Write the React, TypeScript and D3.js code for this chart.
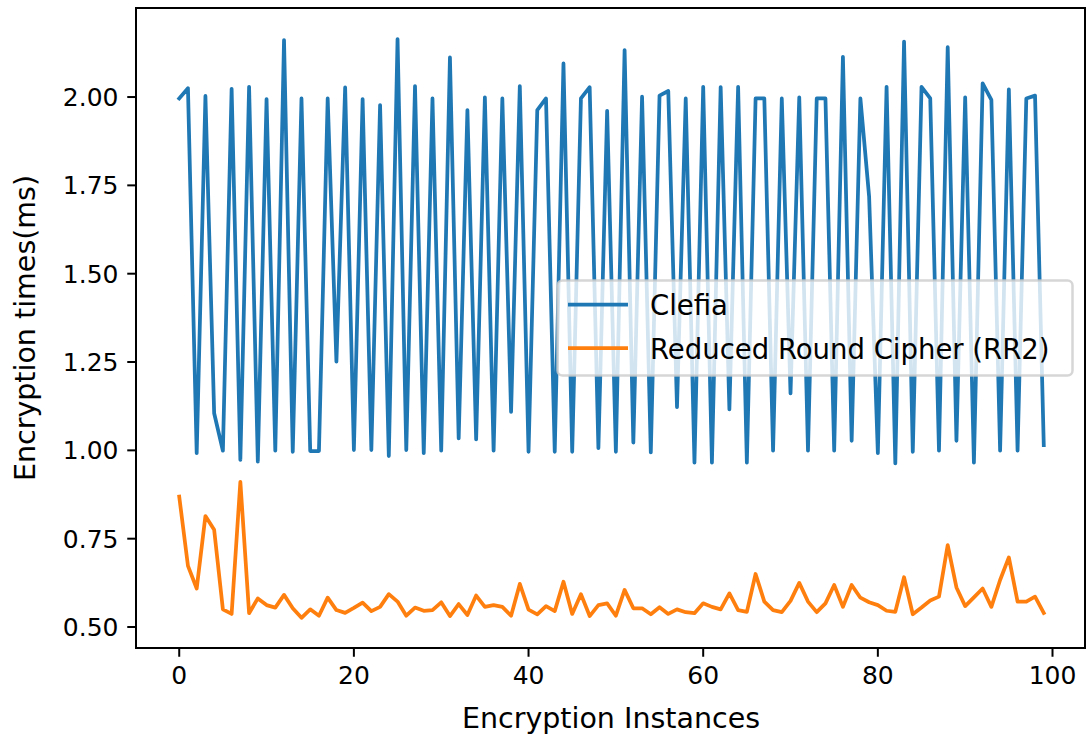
import React from "react";
import * as d3 from "d3";

// Encryption times (ms) per instance
const clefia = [
  1.996, 2.025, 0.992, 2.003, 1.105, 0.999, 2.023, 0.973, 2.029, 0.968,
  1.994, 0.999, 2.161, 0.996, 1.996, 0.998, 0.998, 1.996, 1.251, 2.027,
  1.001, 1.994, 1.001, 1.977, 0.984, 2.164, 1.001, 2.031, 0.992, 1.996,
  0.999, 2.112, 1.034, 1.963, 1.031, 1.999, 0.999, 1.996, 1.109, 2.031,
  0.996, 1.963, 1.996, 0.996, 2.095, 0.996, 1.996, 2.028, 1.006, 1.961,
  0.996, 2.133, 1.022, 2.001, 0.994, 2.004, 2.017, 1.122, 1.996, 0.965,
  2.029, 0.965, 2.028, 1.116, 2.029, 0.965, 1.996, 1.996, 0.999, 1.996,
  1.161, 1.999, 0.999, 1.996, 1.996, 0.999, 2.114, 1.027, 1.996, 1.718,
  0.992, 2.029, 0.963, 2.157, 0.996, 2.029, 1.996, 0.999, 2.141, 1.027,
  1.999, 0.965, 2.039, 1.992, 0.999, 2.022, 0.999, 1.996, 2.004, 1.015,
];

const rr2 = [
  0.869, 0.673, 0.609, 0.814, 0.775, 0.550, 0.537, 0.911, 0.539, 0.581,
  0.562, 0.555, 0.591, 0.553, 0.526, 0.550, 0.532, 0.583, 0.548, 0.540,
  0.554, 0.569, 0.545, 0.557, 0.593, 0.572, 0.532, 0.555, 0.546, 0.548,
  0.570, 0.531, 0.565, 0.534, 0.589, 0.557, 0.562, 0.557, 0.532, 0.622,
  0.549, 0.536, 0.559, 0.545, 0.628, 0.537, 0.593, 0.531, 0.562, 0.567,
  0.532, 0.605, 0.553, 0.553, 0.536, 0.556, 0.537, 0.550, 0.542, 0.539,
  0.567, 0.557, 0.550, 0.595, 0.548, 0.543, 0.650, 0.572, 0.548, 0.542,
  0.574, 0.625, 0.572, 0.542, 0.567, 0.619, 0.557, 0.619, 0.583, 0.570,
  0.562, 0.546, 0.543, 0.641, 0.536, 0.555, 0.575, 0.586, 0.732, 0.612,
  0.559, 0.584, 0.609, 0.557, 0.633, 0.697, 0.572, 0.572, 0.586, 0.540,
];

const xTicks = [0, 20, 40, 60, 80, 100];
const yTicks = [0.5, 0.75, 1.0, 1.25, 1.5, 1.75, 2.0];
const seriesNames = ["Clefia", "Reduced Round Cipher (RR2)"];
const seriesColors = ["#1f77b4", "#ff7f0e"];

const W = 1086;
const H = 737;
const left = 136, right = 1087, top = 8, bottom = 648;
const font = "'DejaVu Sans', sans-serif";

export default function App() {
  const x = d3.scaleLinear().domain([-4.95, 103.95]).range([left, right]);
  const y = d3.scaleLinear().domain([0.4406, 2.252]).range([bottom, top]);

  const line = d3
    .line<number>()
    .x((_, i) => x(i))
    .y((d) => y(d));

  const series = [clefia, rr2];

  return (
    <svg
      width={W}
      height={H}
      style={{ position: "absolute", left: 0, top: 0, background: "#fff" }}
      fontFamily={font}
    >
      <defs>
        <clipPath id="plot">
          <rect x={left} y={top} width={right - left} height={bottom - top} />
        </clipPath>
      </defs>

      <g clipPath="url(#plot)">
        {series.map((s, k) => (
          <path
            key={k}
            d={line(s) || ""}
            fill="none"
            stroke={seriesColors[k]}
            strokeWidth={3.75}
            strokeLinejoin="round"
            strokeLinecap="square"
          />
        ))}
      </g>

      {/* spines */}
      <rect
        x={left}
        y={top}
        width={Math.min(right, W - 1) - left}
        height={bottom - top}
        fill="none"
        stroke="#000"
        strokeWidth={2}
      />

      {/* y axis */}
      {yTicks.map((t) => (
        <g key={t} transform={`translate(0,${y(t)})`}>
          <line x1={left - 8.75} x2={left} stroke="#000" strokeWidth={2} />
          <text x={left - 17.5} dy="0.36em" textAnchor="end" fontSize={25}>
            {d3.format(".2f")(t)}
          </text>
        </g>
      ))}

      {/* x axis */}
      {xTicks.map((t) => (
        <g key={t} transform={`translate(${x(t)},0)`}>
          <line y1={bottom} y2={bottom + 8.75} stroke="#000" strokeWidth={2} />
          <text y={bottom + 36} textAnchor="middle" fontSize={25}>
            {t}
          </text>
        </g>
      ))}

      <text x={611} y={728} textAnchor="middle" fontSize={28.5}>
        Encryption Instances
      </text>
      <text
        transform={`translate(35,${(top + bottom) / 2}) rotate(-90)`}
        textAnchor="middle"
        fontSize={28.5}
      >
        Encryption times(ms)
      </text>

      {/* legend */}
      <g>
        <rect
          x={557.5}
          y={280.5}
          width={515}
          height={95}
          rx={5}
          fill="#fff"
          fillOpacity={0.8}
          stroke="#cccccc"
          strokeOpacity={0.8}
          strokeWidth={2.5}
        />
        {seriesNames.map((name, k) => (
          <g key={name} transform={`translate(0,${k * 43.5})`}>
            <line
              x1={568}
              x2={628}
              y1={304.5}
              y2={304.5}
              stroke={seriesColors[k]}
              strokeWidth={3.75}
            />
            <text x={650} y={315} fontSize={27.5}>
              {name}
            </text>
          </g>
        ))}
      </g>
    </svg>
  );
}
